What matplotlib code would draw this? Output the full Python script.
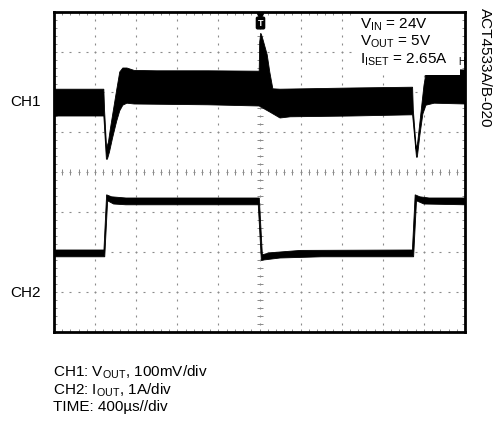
import numpy as np
import matplotlib
matplotlib.use('Agg')
import matplotlib.pyplot as plt
from matplotlib.patches import Rectangle

plt.rcParams['font.family'] = ['Liberation Sans', 'DejaVu Sans']
plt.rcParams['mathtext.fontset'] = 'custom'
plt.rcParams['mathtext.rm'] = 'Liberation Sans'
plt.rcParams['mathtext.it'] = 'Liberation Sans:italic'
plt.rcParams['mathtext.bf'] = 'Liberation Sans:bold'

# ---------------- data (read from the scope capture) ----------------
TIME_PER_DIV = 400.0     # us / div
CH1_PER_DIV = 100.0      # mV / div
CH2_PER_DIV = 1.0        # A / div
CH1_OFFSET = 1.75        # div (CH1 reference marker)
CH2_OFFSET = -3.0        # div (CH2 reference marker)

# CH1 (VOUT ripple band) upper / lower envelopes: time in us, value in mV
ch1_up_t = [-2000, -1515, -1508, -1488, -1470, -1450, -1425, -1390, -1360, -1330, -1290,
            -1220, -1000, -500, -3, 2, 12, 20, 35, 75, 100, 130, 200, 900, 1490,
            1497, 1526, 1540, 1570, 1600, 1625, 1660, 1720, 2000]
ch1_up_mv = [32, 32, -20, -115, -100, -65, -25, 30, 75, 85, 85,
             79, 78, 78, 77, 150, 172, 168, 155, 118, 75, 33, 32, 35, 37,
             -20, -118, -100, -30, 40, 80, 88, 82, 80]
ch1_lo_t = [-2000, -1515, -1490, -1480, -1460, -1430, -1390, -1360, -1330, -1290,
            -1220, -500, -3, 100, 200, 300, 900, 1490, 1528, 1536, 1560, 1590,
            1620, 1700, 2000]
ch1_lo_mv = [-35, -35, -143, -143, -125, -90, -48, -22, -8, -3,
             -5, -7, -10, -25, -40, -37, -35, -32, -138, -138, -85, -30,
             -8, -3, -5]

# CH2 (IOUT) upper / lower envelopes: time in us, value in A
ch2_up_t = [-2000, -1514, -1488, -1440, -1300, -2, 28, 100, 400, 1488, 1515, 1560, 1650, 2000]
ch2_up_a = [1.05, 1.05, 2.43, 2.38, 2.35, 2.35, 0.93, 0.98, 1.04, 1.05, 2.43, 2.38, 2.35, 2.35]
ch2_lo_t = [-2000, -1506, -1478, -1420, -1300, -12, 18, 40, 200, 600, 1500, 1528, 1600, 2000]
ch2_lo_a = [0.88, 0.88, 2.28, 2.20, 2.18, 2.18, 0.79, 0.80, 0.85, 0.88, 0.88, 2.28, 2.20, 2.18]

# ---------------- figure ----------------
W, H = 495, 421
fig = plt.figure(figsize=(W / 100, H / 100), dpi=100)
L, R, T, B = 54, 465, 12, 332
ax = fig.add_axes([L / W, 1 - B / H, (R - L) / W, (B - T) / H])
ax.set_xlim(-5, 5)
ax.set_ylim(-4, 4)
ax.set_xticks([])
ax.set_yticks([])
for s in ax.spines.values():
    s.set_linewidth(2.0)
    s.set_color('black')
    s.set_zorder(10)

# graticule
gc = '#8a8a8a'
yy = np.arange(-4, 4.001, 0.2)
xx = np.arange(-5, 5.001, 0.2)
for i in range(-4, 5):
    ax.plot(np.full(len(yy), i), yy, ls='none', marker='|', ms=2, mew=0.8, color=gc, zorder=1)
for j in range(-3, 4):
    ax.plot(xx, np.full(len(xx), j), ls='none', marker='_', ms=2, mew=0.8, color=gc, zorder=1)
# center axes ticks
ax.plot(xx, np.zeros(len(xx)), ls='none', marker='|', ms=5, mew=0.7, color=gc, zorder=1)
ax.plot(np.zeros(len(yy)), yy, ls='none', marker='_', ms=5, mew=0.7, color=gc, zorder=1)
# border ticks
for yb in (-4, 4):
    ax.plot(xx, np.full(len(xx), yb), ls='none', marker='|', ms=5, mew=0.7, color=gc, zorder=1)
for xb in (-5, 5):
    ax.plot(np.full(len(yy), xb), yy, ls='none', marker='_', ms=5, mew=0.7, color=gc, zorder=1)

# traces
def band(ut, uv, lt, lv, per, off):
    x = np.concatenate([np.array(ut) / TIME_PER_DIV, np.array(lt)[::-1] / TIME_PER_DIV])
    y = np.concatenate([off + np.array(uv) / per, off + np.array(lv)[::-1] / per])
    ax.fill(x, y, facecolor='black', edgecolor='black', lw=0.6, zorder=2)

band(ch1_up_t, ch1_up_mv, ch1_lo_t, ch1_lo_mv, CH1_PER_DIV, CH1_OFFSET)
band(ch2_up_t, ch2_up_a, ch2_lo_t, ch2_lo_a, CH2_PER_DIV, CH2_OFFSET)

# white condition box (covers trace)
bx0 = (355 - L) / (R - L)
bx1 = (460 - L) / (R - L)
by0 = (B - 75) / (B - T)
ax.add_patch(Rectangle((bx0, by0), bx1 - bx0, 1 - by0, transform=ax.transAxes,
                       facecolor='white', edgecolor='none', zorder=5))
fs = 11
tx = (360 - L) / (R - L)
for ypix, s in [(25, r'V$_{\mathrm{IN}}$ = 24V'),
                (42, r'V$_{\mathrm{OUT}}$ = 5V'),
                (60, r'I$_{\mathrm{ISET}}$ = 2.65A')]:
    ax.text(tx, (B - ypix) / (B - T), s, transform=ax.transAxes, fontsize=fs,
            va='center', ha='left', zorder=6)

# trigger marker
ax.plot([0.5], [1 - 3.5 / (B - T)], marker='v', ms=5, color='black',
        transform=ax.transAxes, zorder=11, clip_on=False)
ax.text(0.5 + 1 / (R - L), (B - 23) / (B - T), 'T', transform=ax.transAxes, fontsize=6.5,
        fontweight='bold', color='white', ha='center', va='center', zorder=11,
        bbox=dict(boxstyle='round,pad=0.15', facecolor='black', edgecolor='black'))
ax.text((462 - L) / (R - L), (B - 62) / (B - T), 'H', transform=ax.transAxes, fontsize=7,
        ha='center', va='center', zorder=6)

# channel labels
fig.text(41 / W, 1 - 102 / H, 'CH1', fontsize=fs, ha='right', va='center')
fig.text(41 / W, 1 - 293 / H, 'CH2', fontsize=fs, ha='right', va='center')

# figure id
fig.text(485 / W, 1 - 8 / H, 'ACT4533A/B-020', fontsize=fs, rotation=270,
         ha='center', va='top')

# bottom legend text
fig.text(53 / W, 1 - 372 / H, r'CH1: V$_{\mathrm{OUT}}$, 100mV/div', fontsize=fs, ha='left', va='center')
fig.text(53 / W, 1 - 390 / H, r'CH2: I$_{\mathrm{OUT}}$, 1A/div', fontsize=fs, ha='left', va='center')
fig.text(53 / W, 1 - 407 / H, 'TIME: 400\u00b5s//div', fontsize=fs, ha='left', va='center')

fig.savefig('out.png', dpi=100)
